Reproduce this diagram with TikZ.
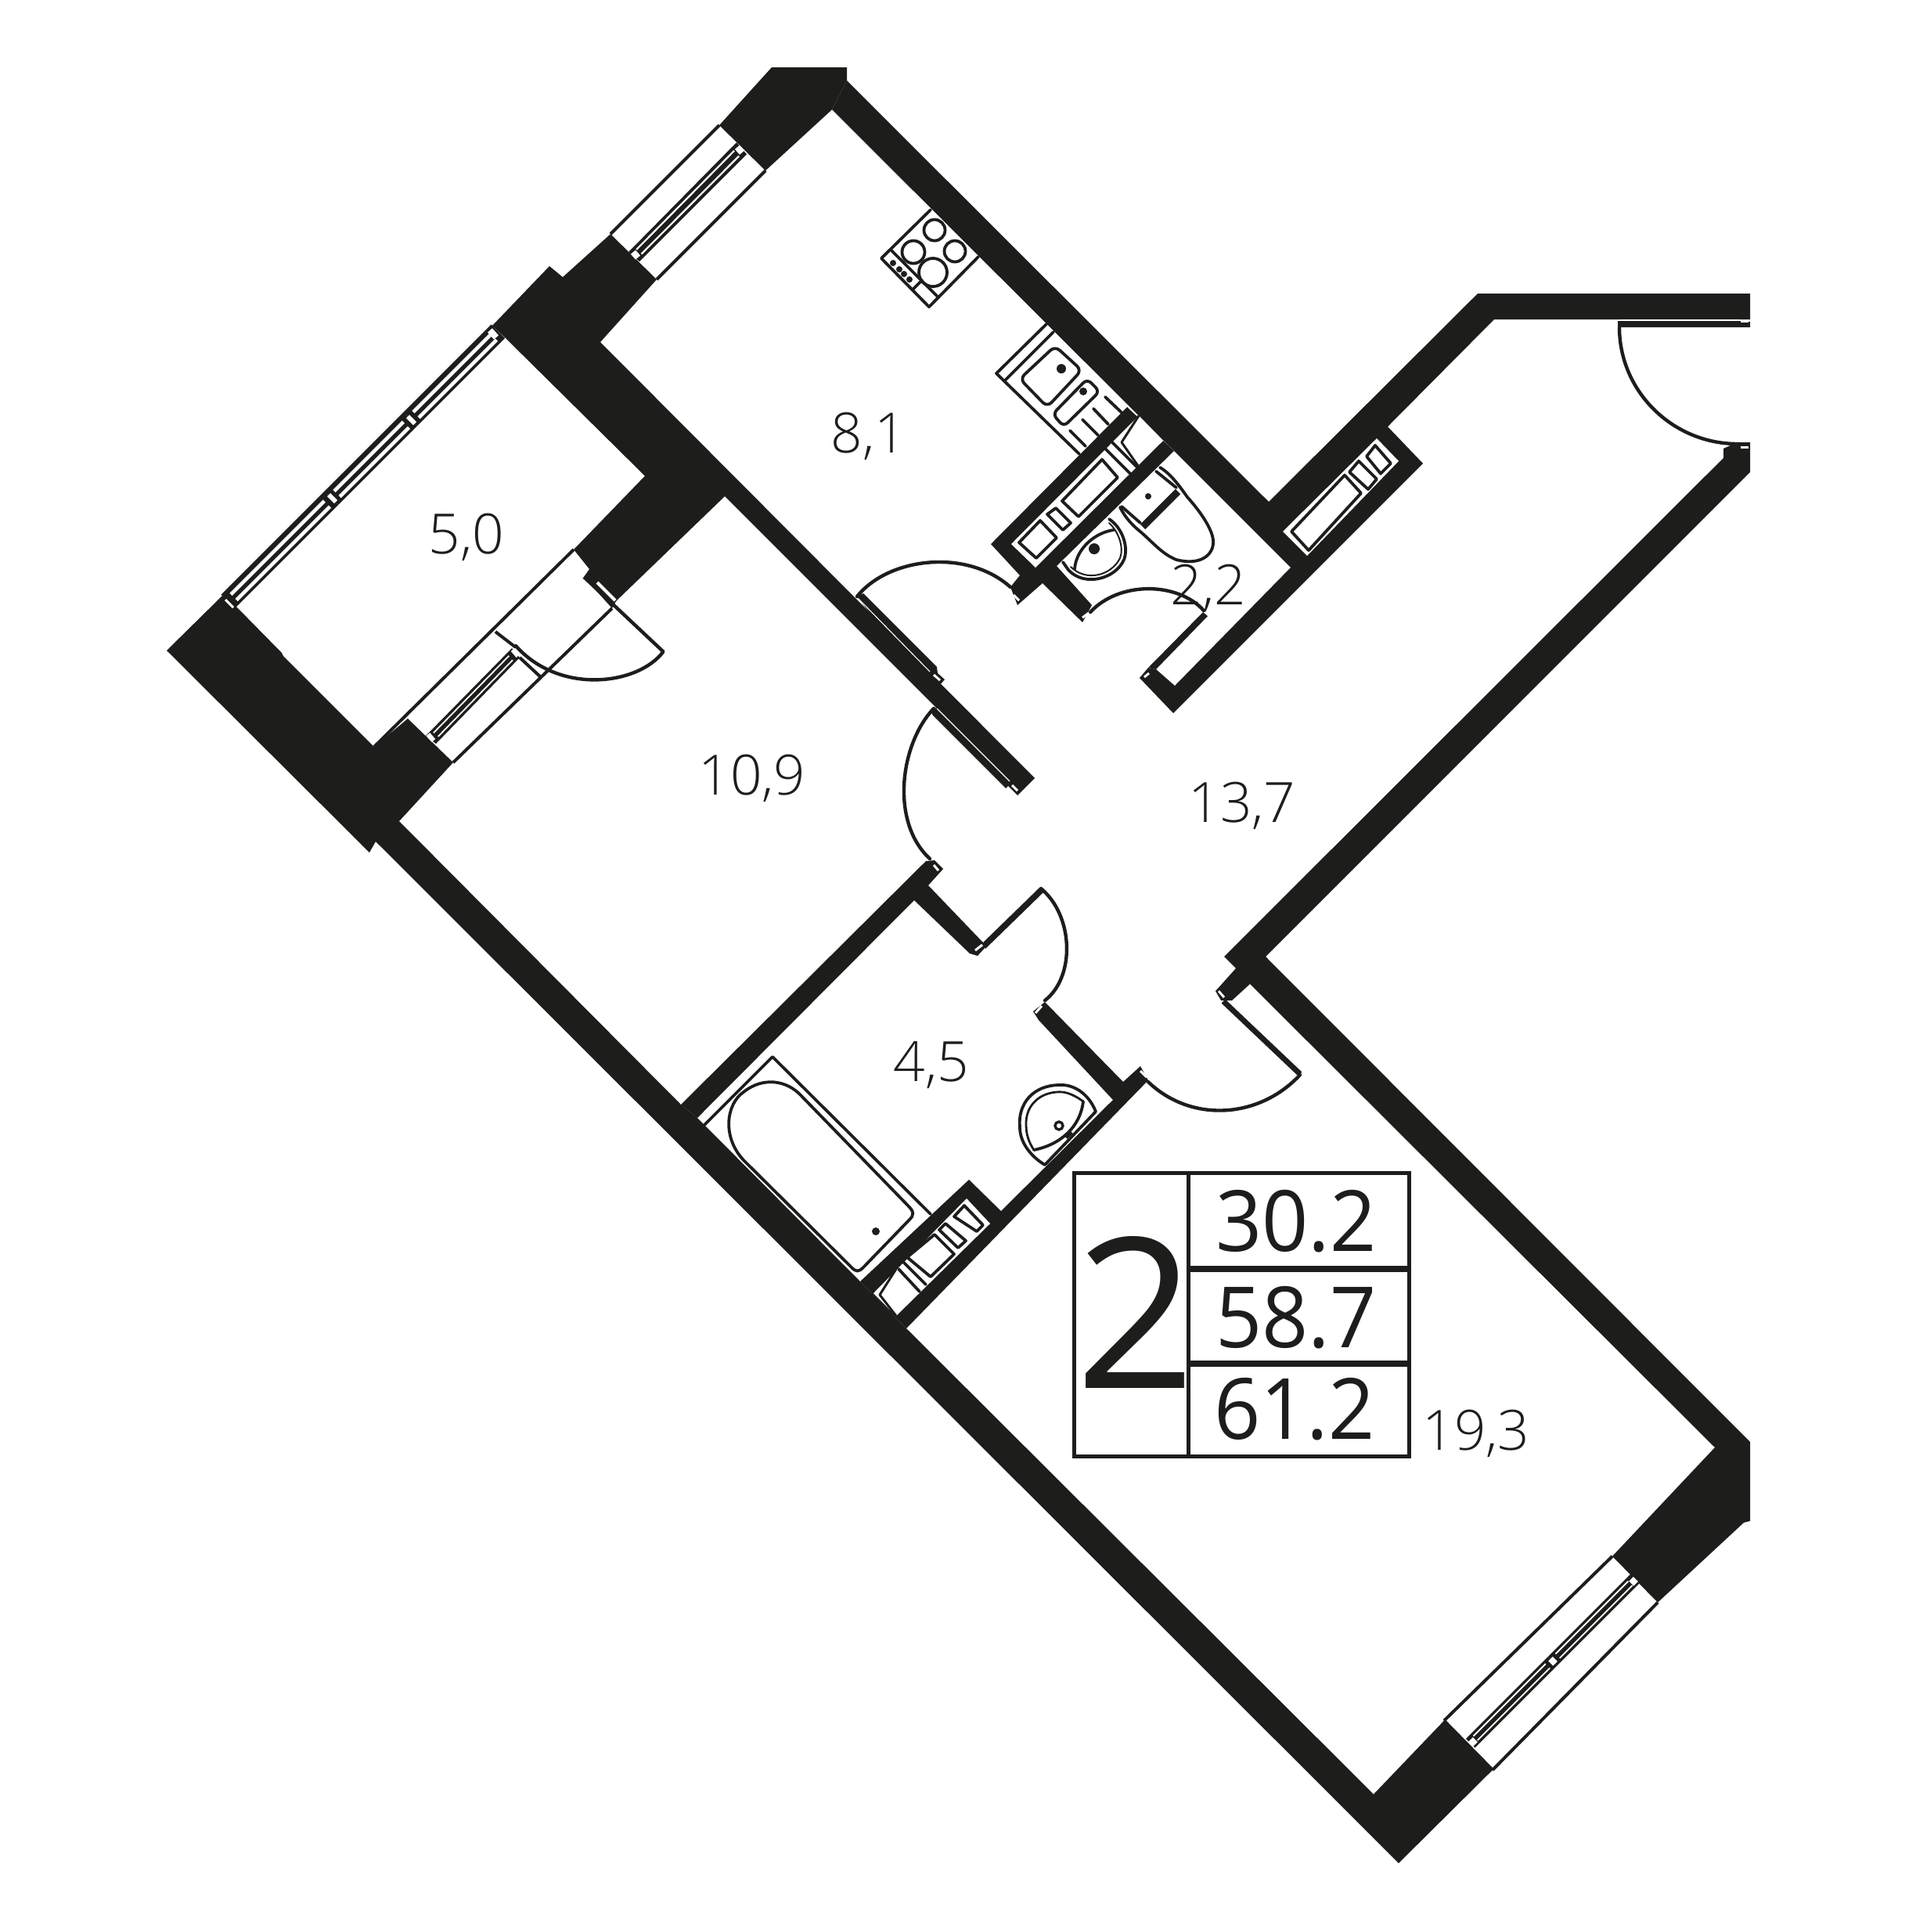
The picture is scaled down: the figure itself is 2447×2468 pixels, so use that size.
\documentclass[tikz,border=0pt]{standalone}
\usepackage{fontspec}
\usepackage{graphicx}
\setmainfont{Open Sans}
\newfontfamily\roomf{Open Sans Light}
\usetikzlibrary{calc}
\definecolor{ink}{HTML}{1D1D1B}
% window strip: black band with two white slits; corners A B (outer), C D (inner), slit width
\newcommand{\wstrip}[5]{%
  \fill[ink] #1--#2--#4--#3--cycle;
  \draw[white,line width=#5,shorten >=9pt,shorten <=9pt] ($#1!.27!#3$)--($#2!.27!#4$);
  \draw[white,line width=#5,shorten >=9pt,shorten <=9pt] ($#1!.73!#3$)--($#2!.73!#4$);
}
\tikzset{
  wall/.style={fill=ink},
  thinline/.style={draw=ink,line width=4pt,line join=round},
  fixline/.style={draw=ink,line width=3.8pt,line join=round,line cap=round},
  swing/.style={draw=ink,line width=4.4pt,line cap=round},
  slotbar/.style={draw=white,line width=3pt},
  slotbox/.style={draw=white,line width=8pt},
  slit/.style={draw=white,line width=1.1pt},
  dotmark/.style={fill=ink},
  room/.style={inner sep=0pt,anchor=base,text=ink,font=\roomf\fontsize{71}{80}\selectfont},
  areanum/.style={inner sep=0pt,anchor=base,text=ink,font=\fontsize{108}{120}\selectfont},
  tabline/.style={draw=ink,line width=5pt},
  tabthick/.style={draw=ink,line width=8pt}
}
\begin{document}
\begin{tikzpicture}[x=1pt,y=-1pt]
\useasboundingbox (0,0) rectangle (2447,2468);
% ---------- walls
% kitchen NE wall, hall wall, service shaft and WC room
\fill[wall] (1082,103)--(1621,641)--(1888,375)--(2236,375)--(2236,408)--(1909,408)--(1773,545)--(1818,592)--(1499,911)--(1456,866)--(1467,853)--(1477,855)--(1501,876)--(1649,725)--(1500,576)--(1063,140)--cycle;
% top block
\fill[wall] (986,86)--(1082,86)--(1082,103)--(1063,140)--(978,218)--(919,160)--cycle;
% kitchen / bedroom wall with loggia piers
\fill[wall] (702,340)--(719,354)--(780,299)--(839,357)--(767,437)--(1322,994)--(1300,1016)--(1287,1003)--(1290,998)--(926,634)--(787,768)--(782,777)--(746,737)--(753,727)--(733,702)--(824,608)--(645,431)--(629,416)--cycle;
% long outer wall
\fill[wall] (213,831)--(284,761)--(302,775)--(360,834)--(362,838)--(478,954)--(521,918)--(579,974)--(510,1049)--(870,1411)--(891,1428)--(1099,1637)--(1158,1697)--(1755,2292)--(1845,2198)--(1907,2261)--(1787,2380)--(480,1075)--(472,1089)--cycle;
% living wall and hall wall
\fill[wall] (2202,573)--(2220,565)--(2236,565)--(2236,603)--(1617,1222)--(2236,1842)--(2236,1943)--(2228,1945)--(2118,2047)--(2060,1988)--(2191,1849)--(1597,1257)--(1574,1278)--(1560,1278)--(1553,1266)--(1579,1237)--(1564,1222)--(2202,585)--cycle;
% bath left wall with stub
\fill[wall] (870,1411)--(1183,1100)--(1194,1099)--(1205,1110)--(1186,1131)--(1256,1204)--(1259,1210)--(1249,1221)--(1239,1218)--(1168,1150)--(891,1428)--cycle;
% bath right wall with stub and shaft
\fill[wall] (1320,1292)--(1335,1280)--(1435,1382)--(1457,1362)--(1467,1380)--(1158,1697)--(1099,1637)--(1238,1507)--(1279,1547)--(1422,1405)--(1327,1303)--cycle;
% kitchen shaft
\fill[wall] (1266,695)--(1440,520)--(1500,576)--(1350,723)--(1395,773)--(1383,795)--(1378,790)--(1332,745)--(1300,773)--(1291,750)--(1303,735)--cycle;
% white shaft cavities
\fill[white] (1292,695)--(1455,531)--(1486,563)--(1323,725)--cycle;
\fill[white] (1759,560)--(1787,589)--(1670,710)--(1639,679)--cycle;
\fill[white] (1235,1531)--(1265,1563)--(1145,1681)--(1116,1652)--cycle;
% ---------- door leaves
\fill[wall] (1095,762)--(1103,758)--(1197,852)--(1198,860)--(1207,868)--(1198,878)--(1170,860)--cycle;
\fill[wall] (1188,907)--(1197,904)--(1292,1000)--(1285,1007)--(1192,914)--cycle;
\fill[wall] (1467,853)--(1537,782)--(1543,787)--(1477,855)--cycle;
\fill[wall] (1256,1204)--(1328,1134)--(1333,1140)--(1259,1212)--cycle;
\fill[wall] (2067,410)--(2223,410)--(2236,411)--(2236,418)--(2067,418)--cycle;
\draw[ink,line width=7pt] (1563,1279)--(1661,1372);
\draw[ink,line width=4.4pt] (746,737)--(848,833);
\draw[slit] (1097,765)--(1188,858);
\draw[slit] (1197,905)--(1290,998);
\draw[slit] (2070,409)--(2223,409);
% door swings
\draw[swing] (2069,418) .. controls (2069,500) and (2137,567) .. (2220,567);
\draw[swing] (1095,762) .. controls (1135,712) and (1235,700) .. (1291,750);
\draw[swing] (1193,905) .. controls (1150,950) and (1137,1050) .. (1188,1097);
\draw[swing] (1393,782) .. controls (1430,742) and (1505,743) .. (1538,780);
\draw[swing] (847,833) .. controls (815,875) and (715,888) .. (659,825);
\draw[swing] (1330,1135) .. controls (1372,1170) and (1374,1248) .. (1335,1278);
\draw[swing] (1661,1373) .. controls (1608,1430) and (1521,1434) .. (1467,1382);
% ---------- thin wall lines, windows
\draw[thinline] (478,954)--(733,702);
\draw[thinline] (579,974)--(782,777);
\draw[thinline] (633,807)--(659,827);
\draw[thinline] (664,840)--(692,866);
\draw[thinline] (780,299)--(919,160);
\draw[thinline] (839,357)--(978,218);
\draw[thinline] (1845,2198)--(2060,1988);
\draw[thinline] (1907,2261)--(2118,2047);
\draw[thinline] (1845,2198)--(1907,2261);
% loggia glazing
\draw[ink,line width=4pt] (284,761)--(629,416);
\wstrip{(284.5,761.5)}{(416.5,629.5)}{(300,777)}{(432,645)}{4.6pt}
\wstrip{(416.5,629.5)}{(517.5,528.5)}{(432,645)}{(533,544)}{4.6pt}
\wstrip{(517.5,528.5)}{(629.5,416.5)}{(533,544)}{(645,432)}{4.6pt}
\draw[slotbar] (288,766)--(298,776);
\draw[slotbar,line width=6pt] (420,632)--(429,641);
\draw[slotbar,line width=6pt] (521,532)--(530,541);
\draw[slotbox] (626,422)--(634,431);
% windows
\wstrip{(803,322)}{(941,182)}{(817,334)}{(954,197)}{2.2pt}
\wstrip{(1873,2221)}{(1978,2116)}{(1884.5,2232.5)}{(1989.5,2127.5)}{1.8pt}
\wstrip{(1978,2116)}{(2083.5,2010.5)}{(1989.5,2127.5)}{(2095,2022)}{1.8pt}
\wstrip{(654,828)}{(544,940)}{(664,840)}{(557,950)}{1.8pt}
\draw[slotbox] (942,188)--(948,195);
\draw[slotbox] (809,322)--(815,329);
\draw[slotbox] (1879,2222)--(1885,2228);
\draw[slotbox] (1981,2119)--(1987,2125);
\draw[slotbox] (2084,2017)--(2090,2023);
\draw[slotbox,line width=6pt] (655,830)--(662,838);
\draw[slotbox,line width=6pt] (547,938)--(554,946);
% hinge slots
\draw[slotbar] (1193,862)--(1201,869);
\draw[slotbar] (1293,1003)--(1300,1010);
\draw[slotbar] (1295,760)--(1302,767);
\draw[slotbar] (1383,789)--(1391,783);
\draw[slotbar] (1462,865)--(1468,860);
\draw[slotbar] (1193,1105)--(1199,1112);
\draw[slotbar] (1246,1214)--(1255,1207);
\draw[slotbar] (1323,1294)--(1331,1285);
\draw[slotbar] (1457,1368)--(1465,1376);
\draw[slotbar] (1557,1266)--(1564,1274);
\draw[slotbar] (2224,410)--(2234,410);
\draw[slotbar] (2224,571)--(2234,571);
\draw[slotbar,line width=4pt] (763,744)--(786,767);
% ---------- stove
\draw[fixline] (1189,268)--(1126,330)--(1187,392)--(1250,328);
\draw[fixline] (1138,319)--(1199,380);
\draw[fixline] (1166,370)--(1178,358);
\draw[fixline] (1194,294) circle[radius=13.5pt];
\draw[fixline] (1220,321) circle[radius=13.5pt];
\draw[fixline] (1167,322) circle[radius=14.5pt];
\draw[fixline] (1192,348) circle[radius=18pt];
\fill[dotmark] (1141,336) circle[radius=4pt];
\fill[dotmark] (1149,344) circle[radius=4pt];
\fill[dotmark] (1155,350) circle[radius=4pt];
\fill[dotmark] (1162,357) circle[radius=4pt];
% ---------- kitchen unit
\draw[fixline] (1338,413)--(1273,477)--(1379,580);
\draw[fixline] (1346,424)--(1283,487);
\draw[fixline,rounded corners=8pt] (1348,442)--(1382,473)--(1338,520)--(1303,484)--cycle;
\draw[fixline,rounded corners=7pt] (1389,484)--(1405,500)--(1359,545)--(1345,529)--cycle;
\fill[dotmark] (1356,471) circle[radius=6pt];
\fill[dotmark] (1384,500) circle[radius=5pt];
\draw[fixline] (1412,507)--(1433,527);
\draw[fixline] (1397,522)--(1416,542);
\draw[fixline] (1383,536)--(1403,556);
\draw[fixline] (1367,550)--(1387,570);
% ---------- kitchen shaft content
\draw[fixline] (1408,587)--(1428,610)--(1378,660)--(1357,640)--cycle;
\draw[fixline] (1349,649)--(1368,668)--(1358,677)--(1338,657)--cycle;
\draw[fixline] (1329,665)--(1350,687)--(1324,713)--(1302,693)--cycle;
\draw[fixline] (1412,573)--(1449,610);
\draw[fixline] (1421,565)--(1458,602);
\draw[ink,line width=3pt,line join=round] (1455,531)--(1433,565)--(1454,595);
\fill[white] (1438,565)--(1452,540)--(1482,565)--(1458,590)--cycle;
% ---------- hall shaft content
\draw[fixline] (1757,569)--(1777,592)--(1764,605)--(1746,583)--cycle;
\draw[fixline] (1736,589)--(1759,612)--(1748,625)--(1724,603)--cycle;
\draw[fixline] (1718,607)--(1739,630)--(1672,703)--(1650,679)--cycle;
% ---------- WC
\draw[fixline] (1482,597) .. controls (1495,605) and (1505,618) .. (1517,635) .. controls (1535,655) and (1552,680) .. (1550,695) .. controls (1548,712) and (1530,722) .. (1503,715) .. controls (1485,708) and (1472,692) .. (1458,680) .. controls (1448,672) and (1438,662) .. (1431,648);
\draw[ink,line width=9pt] (1505,628)--(1460,673);
\draw[fixline] (1477,602)--(1503,623);
\draw[fixline] (1433,647)--(1457,668);
\fill[dotmark] (1467,634) circle[radius=4pt];
% WC basin
\draw[fixline] (1417,663) .. controls (1435,675) and (1442,700) .. (1436,715) .. controls (1425,740) and (1385,750) .. (1365,728) -- (1358,718);
\draw[fixline,line width=2pt] (1417,668) .. controls (1430,680) and (1436,700) .. (1431,713) .. controls (1420,735) and (1388,744) .. (1368,724);
\draw[fixline] (1423,677) .. controls (1400,680) and (1375,700) .. (1373,727);
\fill[dotmark] (1398,701) circle[radius=7pt];
% ---------- bath
\draw[fixline] (899,1438)--(987,1350)--(1189,1551);
\draw[fixline] (1023,1399)--(1160,1540) .. controls (1168,1548) and (1168,1552) .. (1162,1558) -- (1103,1619) .. controls (1097,1625) and (1094,1625) .. (1088,1619) -- (950,1482) .. controls (922,1452) and (928,1410) .. (950,1395) .. controls (975,1375) and (1005,1380) .. (1023,1399);
\fill[dotmark] (1119,1573) circle[radius=5pt];
% bath basin
\draw[fixline] (1335,1488)--(1400,1420) .. controls (1390,1395) and (1370,1385) .. (1354,1386) .. controls (1320,1386) and (1300,1410) .. (1303,1440) .. controls (1303,1460) and (1318,1478) .. (1335,1488);
\draw[fixline,line width=2.8pt] (1384,1407) .. controls (1370,1397) and (1360,1394) .. (1350,1395) .. controls (1325,1397) and (1310,1415) .. (1311,1437) .. controls (1311,1450) and (1315,1460) .. (1321,1469);
\draw[fixline] (1384,1407) .. controls (1380,1440) and (1355,1462) .. (1321,1469);
\draw[ink,line width=5pt] (1362,1453)--(1369,1446);
\draw[ink,line width=3.4pt] (1353,1438) circle[radius=5pt];
% ---------- bath shaft content
\draw[fixline] (1232,1540)--(1256,1565)--(1248,1573)--(1219,1554)--cycle;
\draw[fixline] (1208,1563)--(1234,1585)--(1224,1594)--(1200,1571)--cycle;
\draw[fixline] (1194,1577)--(1219,1602)--(1189,1631)--(1159,1606)--cycle;
\draw[fixline] (1154,1612)--(1183,1641);
\draw[fixline] (1148,1621)--(1175,1650);
\draw[ink,line width=3pt,line join=round] (1145,1621)--(1124,1654)--(1145,1681);
% ---------- table
\draw[tabline] (1372,1498) rectangle (1800,1860);
\draw[tabline] (1518,1498)--(1518,1860);
\draw[tabthick] (1518,1621)--(1800,1621);
\draw[tabthick] (1518,1742)--(1800,1742);
\node[areanum] (a1) at (1656,1598) {\scalebox{.96}[1]{30.2}};
\node[areanum] (a2) at (1656,1721) {\scalebox{.96}[1]{58.7}};
\node[areanum] (a3) at (1654,1838) {\scalebox{.96}[1]{61.2}};
\node[inner sep=0pt,anchor=base,text=ink,font=\fontsize{268}{280}\selectfont] (rooms) at (1451,1773) {2};
% ---------- room areas
\node[room] (r1) at (1110,578) {8,1};
\node[room] (r2) at (596,707) {5,0};
\node[room] (r3) at (961,1015) {10,9};
\node[room] (r4) at (1587,1050) {13,7};
\node[room] (r5) at (1190,1381) {4,5};
\node[room] (r6) at (1544,772) {2,2};
\node[room] (r7) at (1886,1852) {19,3};
\end{tikzpicture}
\end{document}
